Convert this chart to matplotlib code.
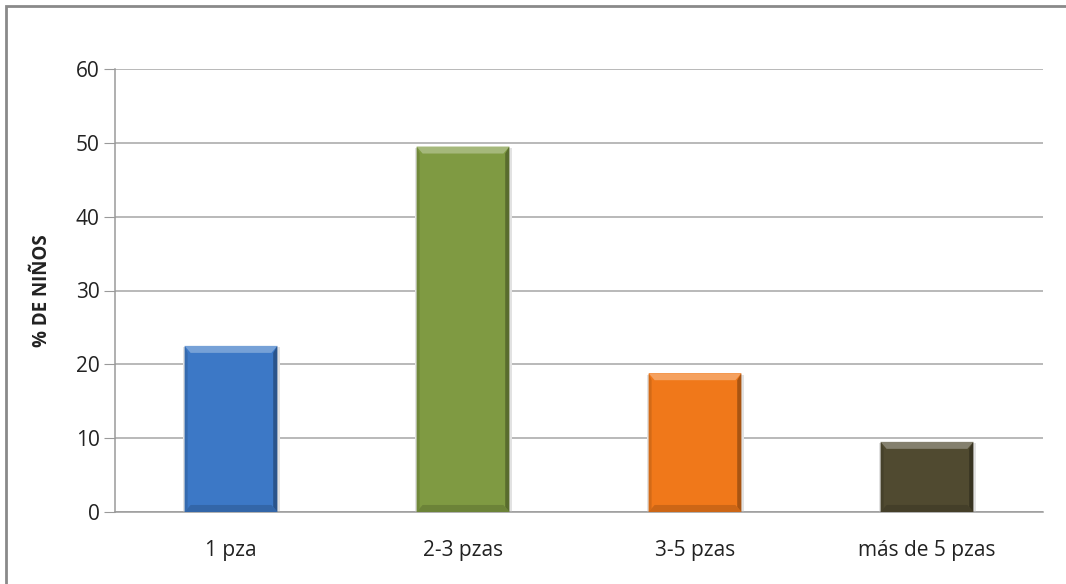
import matplotlib.pyplot as plt
from matplotlib.patches import Rectangle, Polygon
import numpy as np

categories = ["1 pza", "2-3 pzas", "3-5 pzas", "más de 5 pzas"]
percent = [22.5, 49.5, 18.8, 9.5]
colors = ["#3c78c6", "#7f9a42", "#f0781a", "#504a30"]

plt.rcParams['font.family'] = ['Open Sans', 'DejaVu Sans']

fig = plt.figure(figsize=(10.66, 5.84), dpi=100)
ax = fig.add_axes([115 / 1066, 1 - 512 / 584, (1043 - 115) / 1066, (512 - 69) / 584])

# chart frame (left and top edges only show)
fig.patches.append(Rectangle((6 / 1066, -0.1), 1.2, 1 - 6 / 584 + 0.1,
                             transform=fig.transFigure, fill=False,
                             edgecolor="#8a8a8a", linewidth=2.0, zorder=0))

def shade(c, f):
    c = np.array(plt.matplotlib.colors.to_rgb(c))
    if f > 0:
        return tuple(c + (1 - c) * f)
    return tuple(c * (1 + f))

width = 0.4
bx = 6 / 232   # bevel size in data units (x)
by = 7 / 7.38  # bevel size in data units (y)
x = np.arange(len(categories))
for xi, v, c in zip(x, percent, colors):
    l, r = xi - width / 2, xi + width / 2
    # soft shadow
    ax.add_patch(Rectangle((l - 0.006, 0), width + 0.018, v - 0.2,
                           color="#e2e2e2", zorder=2, linewidth=0))
    ax.bar(xi, v, width=width, color=c, zorder=3, linewidth=0)
    # bevel faces
    ax.add_patch(Polygon([(l, v), (r, v), (r - bx, v - by), (l + bx, v - by)],
                         color=shade(c, 0.3), zorder=4, linewidth=0))
    ax.add_patch(Polygon([(r, v), (r, 0), (r - bx * 0.7, by * 0.7), (r - bx * 0.7, v - by)],
                         color=shade(c, -0.3), zorder=4, linewidth=0))
    ax.add_patch(Polygon([(l, v), (l, 0), (l + bx * 0.5, by * 0.5), (l + bx * 0.5, v - by)],
                         color=shade(c, -0.12), zorder=4, linewidth=0))
    ax.add_patch(Polygon([(l, 0), (r, 0), (r - bx, by), (l + bx, by)],
                         color=shade(c, -0.15), zorder=4, linewidth=0))

ax.set_xlim(-0.5, 3.5)
ax.set_ylim(0, 60)
ax.set_yticks(range(0, 61, 10))
ax.set_xticks(x)
ax.set_xticklabels(categories)
ax.yaxis.grid(True, color="#a6a6a6", linewidth=1.1)
ax.set_axisbelow(True)

for s in ["top", "right"]:
    ax.spines[s].set_visible(False)
for s in ["left", "bottom"]:
    ax.spines[s].set_color("#9a9a9a")
    ax.spines[s].set_linewidth(1.1)

ax.tick_params(axis="y", length=8, color="#9a9a9a", labelsize=15, labelcolor="#222222", pad=3)
ax.tick_params(axis="x", length=0, labelsize=15, labelcolor="#222222", pad=20)

ax.set_ylabel("% DE NIÑOS", fontsize=13.5, fontweight="bold", color="#222222")
ax.yaxis.set_label_coords(-0.068, 0.5)

fig.savefig("out.png", dpi=100)
